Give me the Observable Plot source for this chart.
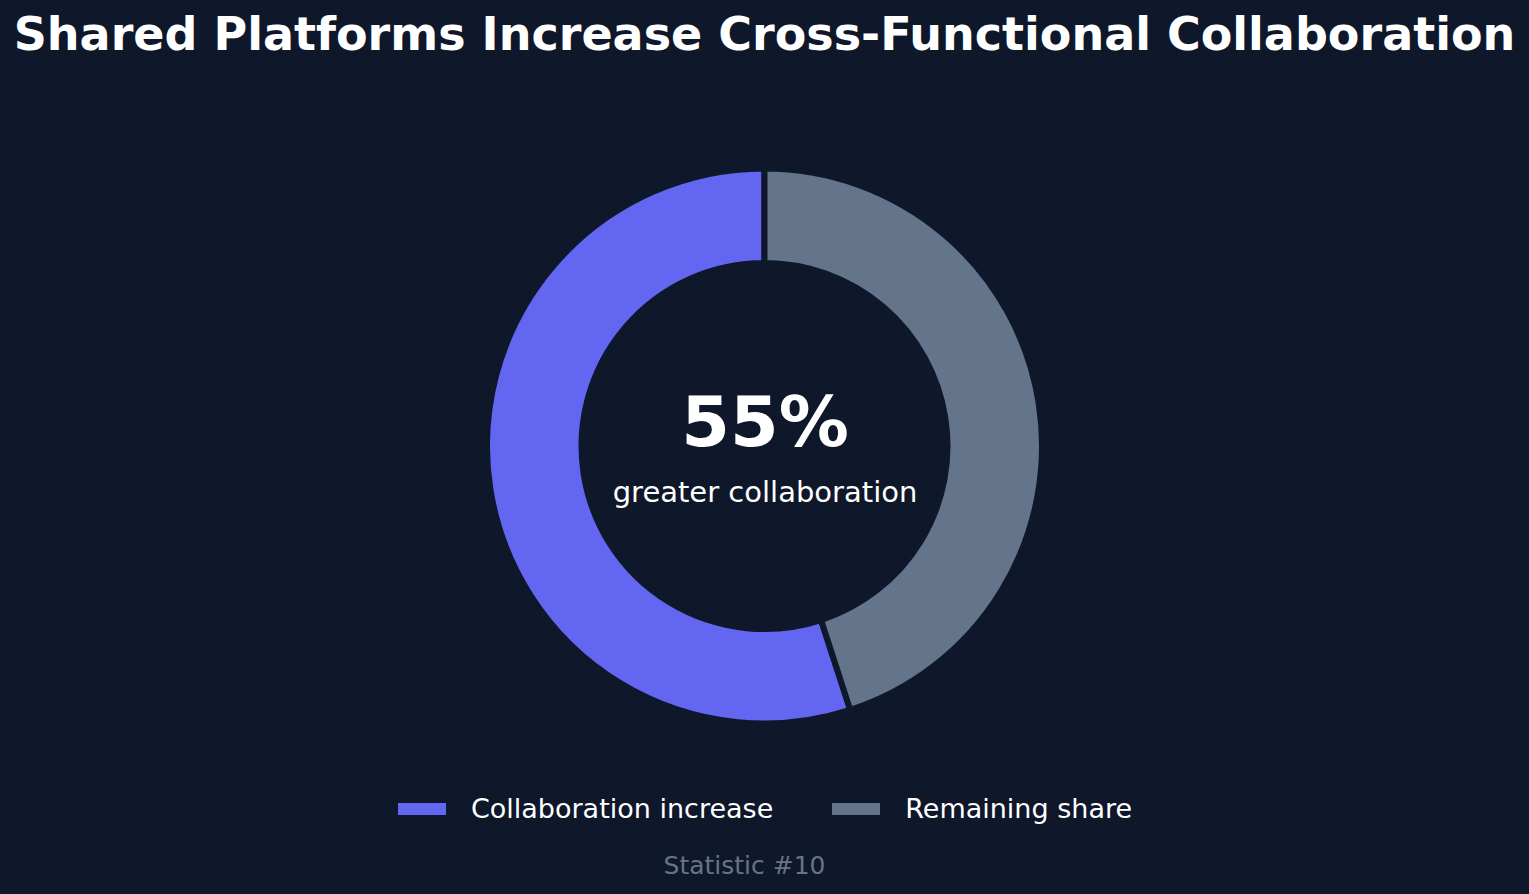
<!DOCTYPE html>
<html>
<head>
<meta charset="utf-8">
<script src="https://cdn.jsdelivr.net/npm/d3@7"></script>
<script src="https://cdn.jsdelivr.net/npm/@observablehq/plot@0.6"></script>
<style>
  html, body { margin: 0; padding: 0; background: #0f172a; }
  body { width: 1529px; height: 894px; overflow: hidden; font-family: "DejaVu Sans", sans-serif; color: #ffffff; }
  #title { height: 68px; line-height: 68px; font-size: 46px; font-weight: bold; text-align: center; white-space: nowrap; }
  #chart svg { display: block; }
  #legend { height: 40px; display: flex; justify-content: center; align-items: center; font-size: 27px; line-height: 40px; padding-left: 1px; }
  .item { display: flex; align-items: center; }
  .item + .item { margin-left: 59px; }
  .sw { width: 48px; height: 12px; margin-right: 25px; }
  #caption { margin-top: 20px; height: 34px; line-height: 34px; font-size: 25px; color: #64748b; text-align: center; padding-right: 40px; }
</style>
</head>
<body>
<div id="title"></div>
<div id="chart"></div>
<div id="legend"></div>
<div id="caption"></div>
<script>
// ---- data ----
const titleText = "Shared Platforms Increase Cross-Functional Collaboration";
const categories = ["Collaboration increase", "Remaining share"];
const values = [55, 45];
const headline = "55%";
const headlineLabel = "greater collaboration";
const captionText = "Statistic #10";
const colors = ["#6366f1", "#64748b"];
const background = "#0f172a";

document.getElementById("title").textContent = titleText;
document.getElementById("caption").textContent = captionText;

const slices = categories.map((c, i) => ({category: c, value: values[i]}));

const R = 277.5;          // outer radius in px (incl. half stroke)
const cx = 764.5, cy = 378;
const innerFrac = 183 / 277.5;

const pie = d3.pie().value(d => d.value).sort(null).startAngle(0).endAngle(-2 * Math.PI);

function donut(index, scales) {
  const x = scales.x, y = scales.y;
  const x0 = x(0), y0 = y(0);
  const rOuter = x(1) - x0;
  const rInner = x(innerFrac) - x0;
  const arc = d3.arc().innerRadius(rInner).outerRadius(rOuter);
  const g = d3.create("svg:g").attr("transform", `translate(${x0},${y0})`);
  g.selectAll("path")
    .data(pie(slices))
    .join("path")
    .attr("d", arc)
    .attr("fill", (d, i) => colors[i])
    .attr("stroke", background)
    .attr("stroke-width", 6)
    .attr("stroke-linejoin", "miter");
  return g.node();
}

const chart = Plot.plot({
  width: 1529,
  height: 721,
  margin: 0,
  style: { background: "transparent", fontFamily: "DejaVu Sans", color: "#ffffff" },
  x: { domain: [-1, 1], range: [cx - R, cx + R], axis: null },
  y: { domain: [-1, 1], range: [cy + R, cy - R], axis: null },
  marks: [
    donut,
    Plot.text([headline], { x: () => 0, y: () => 0, text: d => d, fontSize: 70, fontWeight: "bold", fill: "#ffffff", textAnchor: "middle", lineAnchor: "bottom", dy: -1 }),
    Plot.text([headlineLabel], { x: () => 0, y: () => 0, text: d => d, fontSize: 29, fill: "#ffffff", textAnchor: "middle", lineAnchor: "bottom", dy: 55 })
  ]
});
document.getElementById("chart").appendChild(chart);

const legend = document.getElementById("legend");
categories.forEach((c, i) => {
  const item = document.createElement("div");
  item.className = "item";
  const sw = document.createElement("div");
  sw.className = "sw";
  sw.style.background = colors[i];
  const lab = document.createElement("span");
  lab.textContent = c;
  item.appendChild(sw);
  item.appendChild(lab);
  legend.appendChild(item);
});
</script>
</body>
</html>
